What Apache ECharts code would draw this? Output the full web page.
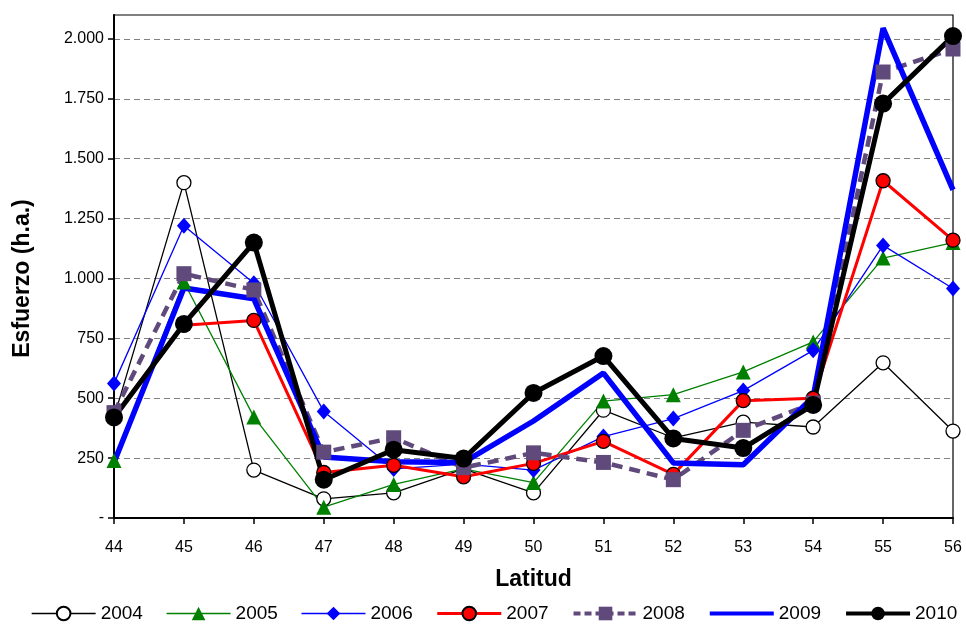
<!DOCTYPE html>
<html>
<head>
<meta charset="utf-8">
<script src="https://cdn.jsdelivr.net/npm/echarts@6/dist/echarts.min.js"></script>
<style>
  html, body { margin: 0; padding: 0; background: #fff; }
  #chart { width: 966px; height: 626px; }
</style>
</head>
<body>
<div id="chart"></div>
<script>
// Latitude categories along the x axis
const latitudes = ['44', '45', '46', '47', '48', '49', '50', '51', '52', '53', '54', '55', '56'];

// Fishing effort (h.a.) per latitude, one array per year
const effort2004 = [420, 1400, 200, 80, 105, 205, 105, 450, 335, 400, 380, 648, 363];
const effort2005 = [240, 985, 422, 45, 140, 205, 148, 488, 515, 610, 735, 1085, 1150];
const effort2006 = [562, 1220, 980, 445, 205, 225, 200, 340, 415, 532, 700, 1138, 958];
const effort2007 = [420, 805, 825, 190, 220, 172, 228, 320, 182, 490, 500, 1408, 1160];
const effort2008 = [440, 1020, 952, 275, 335, 210, 272, 232, 160, 366, 480, 1862, 1958];
const effort2009 = [232, 960, 915, 255, 235, 232, 405, 605, 230, 222, 505, 2045, 1370];
const effort2010 = [420, 810, 1150, 160, 285, 248, 522, 676, 332, 292, 472, 1730, 2012];

// Y axis range and tick spacing
const yMin = 0;
const yMax = 2100;
const yStep = 250;

const FONT = '"Liberation Sans", Arial, sans-serif';

function formatThousands(v) {
  if (v === 0) return '-';
  if (v % yStep !== 0) return '';
  const s = String(Math.round(v));
  return s.length > 3 ? s.slice(0, s.length - 3) + '.' + s.slice(s.length - 3) : s;
}

// Per-year styles
const styles = {
  '2004': { symbol: 'circle', size: 14, line: { color: '#000', width: 1.3 }, item: { color: '#fff', borderColor: '#000', borderWidth: 1.3 } },
  '2005': { symbol: 'triangle', size: 15, line: { color: '#008000', width: 1.3 }, item: { color: '#008000', borderWidth: 0 } },
  '2006': { symbol: 'diamond', size: [14, 16], line: { color: '#0000ff', width: 1.3 }, item: { color: '#0000ff', borderWidth: 0 } },
  '2007': { symbol: 'circle', size: 14, line: { color: '#ff0000', width: 3 }, item: { color: '#ff0000', borderColor: '#000', borderWidth: 1.3 } },
  '2008': { symbol: 'rect', size: 15, line: { color: '#604a7b', width: 4.5, type: [11, 7] }, item: { color: '#604a7b', borderWidth: 0 } },
  '2009': { symbol: 'none', size: 0, line: { color: '#0000ff', width: 5.5 }, item: { color: '#0000ff' } },
  '2010': { symbol: 'circle', size: 18, line: { color: '#000', width: 5 }, item: { color: '#000', borderWidth: 0 } }
};

function lineSeries(name, data) {
  const st = styles[name];
  return {
    name: name,
    type: 'line',
    data: data,
    symbol: st.symbol,
    showSymbol: st.symbol !== 'none',
    symbolSize: st.size,
    lineStyle: st.line,
    itemStyle: st.item,
    animation: false
  };
}

const years = ['2004', '2005', '2006', '2007', '2008', '2009', '2010'];
const legendData = years.map(function (y) {
  const st = styles[y];
  const entry = {
    name: y,
    lineStyle: Object.assign({}, st.line, { width: Math.min(st.line.width, 4), type: st.line.type ? [7, 4] : 'solid' })
  };
  if (st.symbol === 'none') entry.itemStyle = { opacity: 0 };
  return entry;
});

const chart = echarts.init(document.getElementById('chart'), null, { renderer: 'canvas' });

chart.setOption({
  backgroundColor: '#ffffff',
  animation: false,
  textStyle: { fontFamily: FONT, color: '#000' },
  grid: {
    left: 114, right: 13, top: 15, bottom: 108,
    show: true, borderColor: '#000', borderWidth: 1.2, backgroundColor: 'transparent'
  },
  legend: {
    type: 'plain',
    orient: 'horizontal',
    top: 604,
    left: 31,
    width: 935,
    padding: 0,
    itemWidth: 64,
    itemHeight: 17,
    itemGap: 23,
    textStyle: { fontFamily: FONT, fontSize: 19, color: '#000' },
    data: legendData
  },
  xAxis: {
    type: 'category',
    data: latitudes,
    boundaryGap: false,
    name: 'Latitud',
    nameLocation: 'middle',
    nameGap: 50,
    nameTextStyle: { fontFamily: FONT, fontSize: 23, fontWeight: 'bold', color: '#000' },
    axisLine: { lineStyle: { color: '#000', width: 2 } },
    axisTick: { show: true, inside: false, length: 6, alignWithLabel: true, lineStyle: { color: '#000', width: 1.5 } },
    axisLabel: { fontFamily: FONT, fontSize: 16, color: '#000', margin: 22 },
    splitLine: { show: false }
  },
  yAxis: {
    type: 'value',
    min: yMin,
    max: yMax,
    interval: yStep,
    name: 'Esfuerzo (h.a.)',
    nameLocation: 'middle',
    nameGap: 80,
    nameRotate: 90,
    nameTextStyle: { fontFamily: FONT, fontSize: 23, fontWeight: 'bold', color: '#000', padding: [0, 24, 0, 0] },
    axisLine: { show: true, lineStyle: { color: '#000', width: 2 } },
    axisTick: { show: true, inside: false, length: 6, lineStyle: { color: '#000', width: 1.5 } },
    axisLabel: { fontFamily: FONT, fontSize: 16, color: '#000', margin: 10, formatter: formatThousands, showMaxLabel: false },
    splitLine: { show: true, lineStyle: { color: '#808080', type: [6, 4], width: 1.2 } }
  },
  series: years.map(function (y, i) {
    return lineSeries(y, [effort2004, effort2005, effort2006, effort2007, effort2008, effort2009, effort2010][i]);
  })
});
</script>
</body>
</html>
